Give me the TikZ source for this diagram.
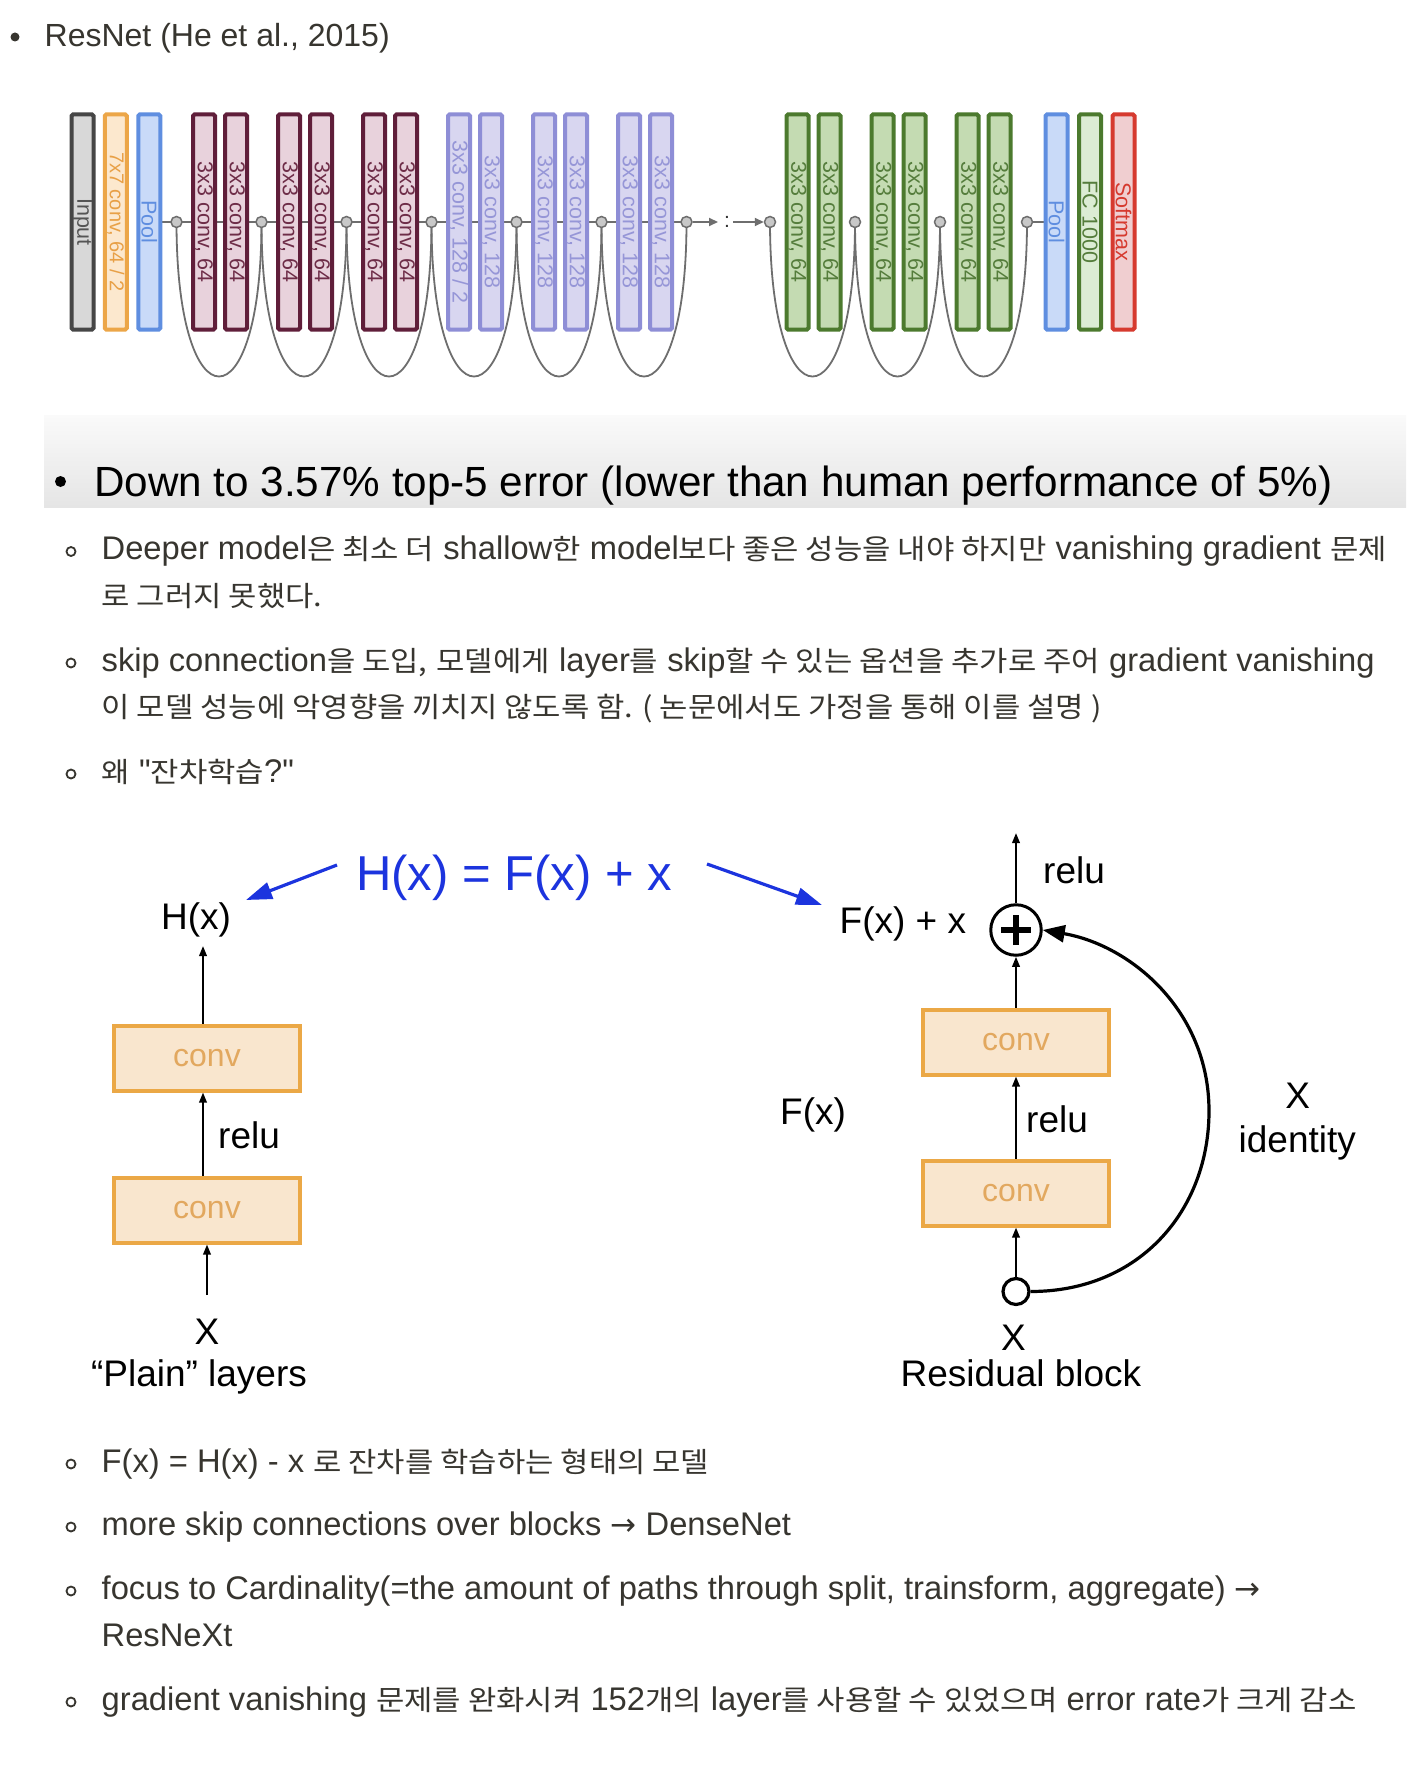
\documentclass[tikz,border=0pt]{standalone}
\usepackage{fontspec}
\setmainfont{Liberation Sans}
\newfontfamily\qf{Liberation Sans}[Ligatures=TeXOff]
\newfontfamily\krf{Noto Sans CJK KR}[FakeStretch=1.1]
\newfontfamily\djv{DejaVu Sans}
\usetikzlibrary{arrows.meta,calc}
\pgfdeclarelayer{bg}
\pgfsetlayers{bg,main}
\definecolor{txt}{RGB}{55,53,47}
\definecolor{inD}{RGB}{70,70,70}\definecolor{inF}{RGB}{216,216,216}\definecolor{inT}{RGB}{85,85,85}
\definecolor{orD}{RGB}{236,166,72}\definecolor{orF}{RGB}{252,232,206}\definecolor{orT}{RGB}{232,160,70}
\definecolor{blD}{RGB}{95,142,224}\definecolor{blF}{RGB}{201,218,248}\definecolor{blT}{RGB}{95,142,224}
\definecolor{maD}{RGB}{96,30,58}\definecolor{maF}{RGB}{232,210,220}\definecolor{maT}{RGB}{110,45,72}
\definecolor{puD}{RGB}{142,142,214}\definecolor{puF}{RGB}{216,214,240}\definecolor{puT}{RGB}{150,150,215}
\definecolor{grD}{RGB}{76,122,46}\definecolor{grF}{RGB}{196,219,178}\definecolor{grT}{RGB}{85,125,60}
\definecolor{fcD}{RGB}{76,122,46}\definecolor{fcF}{RGB}{220,236,212}\definecolor{fcT}{RGB}{85,125,60}
\definecolor{smD}{RGB}{214,58,47}\definecolor{smF}{RGB}{240,206,208}\definecolor{smT}{RGB}{214,58,47}
\definecolor{cvD}{RGB}{235,168,70}\definecolor{cvF}{RGB}{249,230,206}\definecolor{cvT}{RGB}{226,168,95}
\definecolor{blueeq}{RGB}{28,52,222}
\definecolor{arcg}{RGB}{110,110,110}
\definecolor{jnF}{RGB}{200,200,200}
\definecolor{bandT}{RGB}{250,250,250}\definecolor{bandB}{RGB}{229,229,229}
\newcommand\fs[1]{\fontsize{#1}{#1}\selectfont}
\newcommand\K[1]{{\krf\fontsize{28}{32}\selectfont #1}}
\newcommand\Arr{{\djv\fontsize{31}{32}\selectfont →}}
\newcommand\Q{{\qf"}}
\tikzset{
  lay/.style={draw=#1D, fill=#1F, text=#1T, line width=4pt, rounded corners=1.5pt,
    rotate=-90, minimum width=215pt, minimum height=22pt, inner sep=0pt, font=\fs{21.5}},
  jn/.style={circle, draw=arcg, fill=jnF, line width=1.5pt, minimum size=11pt, inner sep=0pt},
  conn/.style={draw=arcg, line width=2pt},
  skiparc/.style={draw=arcg, line width=1.8pt},
  cv/.style={draw=cvD, fill=cvF, text=cvT, line width=4pt, minimum width=186pt,
    minimum height=65pt, inner sep=0pt, font=\fs{32}},
  lab/.style={inner sep=0pt, text=black, font=\fs{37}},
  arr/.style={draw=black, line width=2pt, -{Triangle[length=10pt,width=7.5pt]}},
  bluearr/.style={draw=blueeq, line width=3.2pt, -{Triangle[length=26pt,width=17pt]}},
  line/.style={anchor=base west, inner sep=0pt, text=txt, font=\fs{32.7}},
}
\begin{document}
\begin{tikzpicture}[x=1pt,y=-1pt]
\useasboundingbox (0,0) rectangle (1406,1768);
\begin{pgfonlayer}{bg}
\fill[white] (0,0) rectangle (1406,1768);
\end{pgfonlayer}

% ---- title line
\fill[txt] (15,37) circle (4.5);
\node[line, font=\fs{32}] (t0) at (44.5,47) {ResNet (He et al., 2015)};

% ---- architecture strip
\node[lay=in] (inp) at (82.5,222) {Input};
\node[lay=or, font=\fs{20}] (c7) at (115.8,222) {7x7 conv, 64 / 2};
\node[lay=bl] (pool) at (149.3,222) {Pool};
\foreach \i in {1,...,7}{\node[jn] (j\i) at ({176.5+85*(\i-1)},222) {};}
\node[lay=ma] (m1) at (204,222) {3x3 conv, 64};
\node[lay=ma] (m2) at (236,222) {3x3 conv, 64};
\node[lay=ma] (m3) at (289,222) {3x3 conv, 64};
\node[lay=ma] (m4) at (321,222) {3x3 conv, 64};
\node[lay=ma] (m5) at (374,222) {3x3 conv, 64};
\node[lay=ma] (m6) at (406,222) {3x3 conv, 64};
\node[lay=pu] (p1) at (459,222) {3x3 conv, 128 / 2};
\node[lay=pu] (p2) at (491,222) {3x3 conv, 128};
\node[lay=pu] (p3) at (544,222) {3x3 conv, 128};
\node[lay=pu] (p4) at (576,222) {3x3 conv, 128};
\node[lay=pu] (p5) at (629,222) {3x3 conv, 128};
\node[lay=pu] (p6) at (661,222) {3x3 conv, 128};
\node[jn] (k1) at (770,222) {};
\node[jn] (k2) at (855,222) {};
\node[jn] (k3) at (940,222) {};
\node[jn] (k4) at (1027,222) {};
\node[lay=gr] (g1) at (797.5,222) {3x3 conv, 64};
\node[lay=gr] (g2) at (829.5,222) {3x3 conv, 64};
\node[lay=gr] (g3) at (882.5,222) {3x3 conv, 64};
\node[lay=gr] (g4) at (914.5,222) {3x3 conv, 64};
\node[lay=gr] (g5) at (967.5,222) {3x3 conv, 64};
\node[lay=gr] (g6) at (999.5,222) {3x3 conv, 64};
\node[lay=bl] (pool2) at (1056.5,222) {Pool};
\node[lay=fc] (fc) at (1090,222) {FC 1000};
\node[lay=sm] (soft) at (1123.5,222) {Softmax};
\begin{pgfonlayer}{bg}
  \draw[conn] (pool.center) -- (j7.center);
  \draw[conn] (k4.center) -- (pool2.center);
  \foreach \a/\b in {j1/j2,j2/j3,j3/j4,j4/j5,j5/j6,j6/j7,k1/k2,k2/k3,k3/k4}{
    \draw[skiparc] (\a.center) .. controls +(0,206) and +(0,206) .. (\b.center);}
\end{pgfonlayer}
\coordinate (dA) at (718,222);
\coordinate (dB) at (733,222);
\draw[conn, -{Triangle[length=9pt,width=8pt]}] (j7.east) -- (dA);
\node[inner sep=0pt, anchor=base, text={rgb,255:red,51;green,51;blue,51}, font=\fs{21}] (colon) at (727,227.5) {:};
\draw[conn, -{Triangle[length=9pt,width=8pt]}] (dB) -- (k1.west);

% ---- slide band
\shade[top color=bandT, bottom color=bandB] (44,415) rectangle (1406,507);
\fill[black] (60.5,481.5) circle (5.5);
\node[line, text=black, font=\fs{42.2}] (slide) at (94,496) {Down to 3.57\% top-5 error (lower than human performance of 5\%)};

% ---- bullets 1
\foreach \y in {559.5,671,782}{\draw[txt, line width=1.8pt] (71,\y-8) circle (4.5);}
\node[line] (l1) at (101.5,559.5) {Deeper model\K{은 최소 더} shallow\K{한} model\K{보다 좋은 성능을 내야 하지만} vanishing gradient \K{문제}};
\node[line] (l2) at (101.5,606) {\K{로 그러지 못했다.}};
\node[line] (l3) at (101.5,671) {skip connection\K{을 도입,} \K{모델에게} layer\K{를} skip\K{할 수 있는 옵션을 추가로 주어} gradient vanishing};
\node[line] (l4) at (101.5,717.5) {\K{이 모델 성능에 악영향을 끼치지 않도록 함. ( 논문에서도 가정을 통해 이를 설명 )}};
\node[line] (l5) at (101.5,782) {\K{왜} \Q\K{잔차학습}?\Q};

% ---- middle diagram: formula
\node[inner sep=0pt, anchor=base west, text=blueeq, font=\fs{49}] (eq) at (356,890) {H(x) = F(x) + x};
\coordinate (bls) at (337,865);
\coordinate (ble) at (246,900);
\coordinate (brs) at (707,864);
\coordinate (bre) at (822,905);
\draw[bluearr] (bls) -- (ble);
\draw[bluearr] (brs) -- (bre);

% plain layers
\node[cv] (pc2) at (207,1058) {conv};
\node[cv] (pc1) at (207,1210) {conv};
\node[lab, anchor=base west] (hx) at (161,929) {H(x)};
\coordinate (hxt) at (203,946);
\coordinate (xin) at (207,1295);
\draw[arr] ([xshift=-4pt]pc2.north) -- (hxt);
\draw[arr] ([xshift=-4pt]pc1.north) -- ([xshift=-4pt]pc2.south);
\draw[arr] (xin) -- (pc1.south);
\node[lab, anchor=base west] (relu1) at (218,1148.4) {relu};
\node[lab, anchor=base] (x1) at (207,1344) {X};
\node[lab, anchor=base] (plain) at (199,1386.4) {“Plain” layers};

% residual block
\node[cv] (rc2) at (1016,1042) {conv};
\node[cv] (rc1) at (1016,1193) {conv};
\node[circle, draw=black, line width=3pt, minimum size=50.5pt, inner sep=0pt] (plus) at (1016,930) {};
\draw[line width=5.5pt] ([xshift=-15pt]plus.center) -- ([xshift=15pt]plus.center);
\draw[line width=5.5pt] ([yshift=-15pt]plus.center) -- ([yshift=15pt]plus.center);
\node[circle, draw=black, fill=white, line width=3.2pt, minimum size=26pt, inner sep=0pt] (sc) at (1016,1291.5) {};
\coordinate (rtop) at (1016,833);
\draw[arr] (plus.north) -- (rtop);
\draw[arr] (rc2.north) -- (plus.south);
\draw[arr] (rc1.north) -- (rc2.south);
\draw[arr] (sc.north) -- (rc1.south);
\draw[line width=3.2pt, -{Triangle[length=22pt,width=17pt]}] (sc.east) .. controls (1140,1291.5) and (1209,1210) .. (1209,1111) .. controls (1209,1010) and (1130,945) .. (plus.east);
\node[lab, anchor=base west] (relu2) at (1043,883) {relu};
\node[lab, anchor=base west] (fxx) at (839.5,933) {F(x) + x};
\node[lab, anchor=base west] (relu3) at (1026,1132) {relu};
\node[lab, anchor=base west] (fx) at (780,1124) {F(x)};
\node[lab, anchor=base] (xid) at (1297.7,1108) {X};
\node[lab, anchor=base] (idn) at (1297.3,1152) {identity};
\node[lab, anchor=base] (xb) at (1013.4,1350) {X};
\node[lab, anchor=base] (rb) at (1021,1386.4) {Residual block};

% ---- bullets 2
\foreach \y in {1472,1535,1599,1710}{\draw[txt, line width=1.8pt] (71,\y-8) circle (4.5);}
\node[line] (l6) at (101.5,1472) {F(x) = H(x) - x \K{로 잔차를 학습하는 형태의 모델}};
\node[line] (l7) at (101.5,1535) {more skip connections over blocks \Arr{} DenseNet};
\node[line] (l8) at (101.5,1599) {focus to Cardinality(=the amount of paths through split, trainsform, aggregate) \Arr};
\node[line] (l9) at (101.5,1646) {ResNeXt};
\node[line] (l10) at (101.5,1710) {gradient vanishing \K{문제를 완화시켜} 152\K{개의} layer\K{를 사용할 수 있었으며} error rate\K{가 크게 감소}};
\end{tikzpicture}
\end{document}
